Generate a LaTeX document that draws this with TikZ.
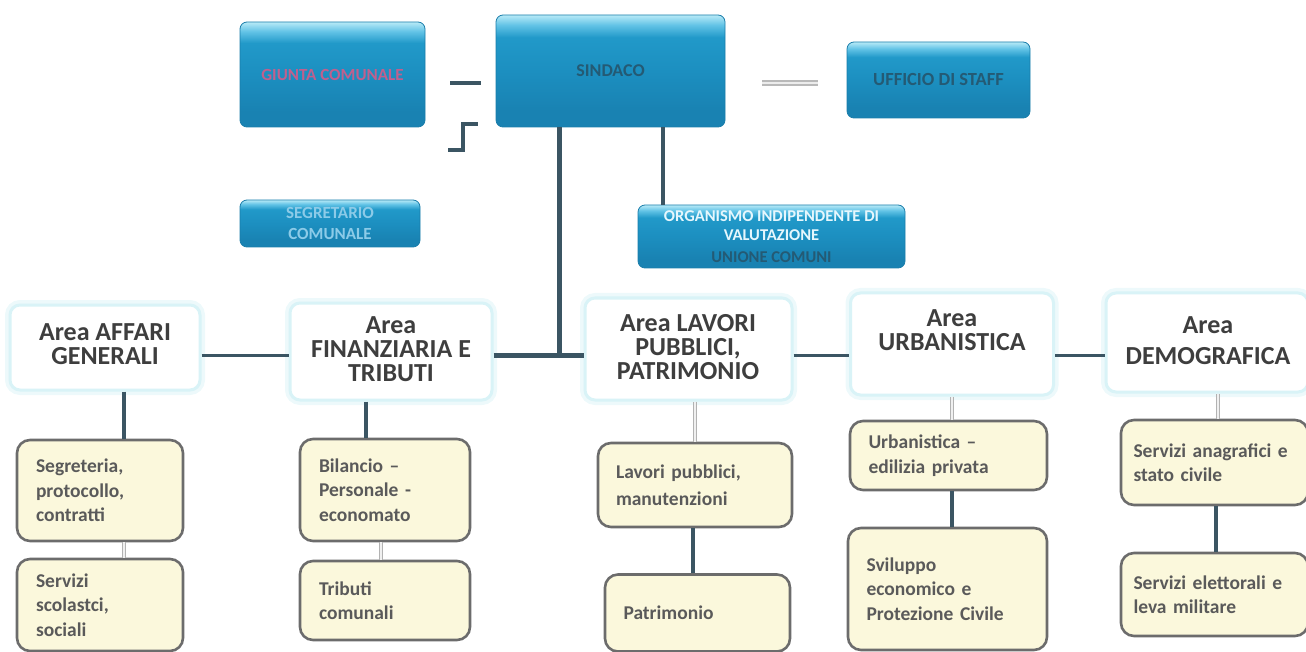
\documentclass[tikz,border=0pt]{standalone}
\usepackage{fontspec}
\setmainfont{Carlito}
\usetikzlibrary{calc}
\definecolor{dkline}{HTML}{3B5563}
\definecolor{boxedge}{HTML}{6C6C6C}
\definecolor{yell}{HTML}{FBF8DC}
\definecolor{titlecol}{HTML}{3E3E3E}
\definecolor{subcol}{HTML}{5A5A5A}
\definecolor{glow}{HTML}{CDEFF4}
\definecolor{bluedge}{HTML}{1A7DAA}
\definecolor{blA}{HTML}{1982B2}
\definecolor{blB}{HTML}{1C8FC0}
\definecolor{blC}{HTML}{2199C9}
\definecolor{blD}{HTML}{62C3E6}
\definecolor{blE}{HTML}{B8EAF7}
\definecolor{sindtxt}{HTML}{245A74}
\definecolor{giuntatxt}{HTML}{C0608E}
\definecolor{segrtxt}{HTML}{8CCBE8}
\pgfdeclareverticalshading{glossy}{100bp}{color(0bp)=(blA); color(25bp)=(blA); color(32bp)=(blA); color(50bp)=(blB); color(65bp)=(blC); color(70.5bp)=(blD); color(75bp)=(blE); color(100bp)=(blE)}
\tikzset{
  bluebox/.style={rounded corners=7pt, shading=glossy, draw=bluedge, line width=0.8pt, align=center, font=\bfseries\fontsize{17}{20}\selectfont, inner sep=2pt},
  areabox/.style={rounded corners=10pt, fill=white, draw=glow!75, line width=3pt,
    preaction={draw=glow!35, line width=10pt}},
  areatext/.style={align=center, text=titlecol, font=\bfseries\fontsize{26}{24}\selectfont},
  subbox/.style={rounded corners=13pt, fill=yell, draw=boxedge, line width=2.6pt, align=left, text=subcol, font=\bfseries\fontsize{19.5}{24.5}\selectfont, inner sep=0pt},
  darkcon/.style={draw=dkline, line width=4pt},
  thickcon/.style={draw=dkline, line width=5pt},
  lightcon/.style={draw=gray!60, double=gray!12, double distance=1.4pt, line width=0.9pt}
}
\begin{document}
\begin{tikzpicture}[x=1pt,y=-1pt]
\useasboundingbox (0,0) rectangle (1306,652);
% top blue boxes
\node[bluebox, minimum width=185pt, minimum height=105pt, text=giuntatxt] (giunta) at (332.5,74.5) {GIUNTA COMUNALE};
\node[bluebox, minimum width=229pt, minimum height=112pt, text=sindtxt, font=\bfseries\fontsize{18}{20}\selectfont] (sind) at (610.5,71) {SINDACO};
\node[bluebox, minimum width=183pt, minimum height=76pt, text=sindtxt, font=\bfseries\fontsize{18.5}{20}\selectfont] (staff) at (938.5,80) {UFFICIO DI STAFF};
\node[bluebox, minimum width=180pt, minimum height=47pt, text=segrtxt, font=\bfseries\fontsize{17}{21}\selectfont] (segr) at (330,223.5) {SEGRETARIO\\COMUNALE};
\node[bluebox, minimum width=267pt, minimum height=63pt, text=white!90!cyan, font=\bfseries\fontsize{16.5}{19}\selectfont, inner sep=0pt] (oiv) at (771.5,236.5) {ORGANISMO INDIPENDENTE DI\\VALUTAZIONE\\[3pt]\textcolor{sindtxt}{UNIONE COMUNI}};
% free segments near the top
\coordinate (d1) at (450,83); \coordinate (d2) at (481,83);
\draw[darkcon] (d1) -- (d2);
\coordinate (b1) at (448,150); \coordinate (b2) at (463,150); \coordinate (b3) at (463,124); \coordinate (b4) at (478,124);
\draw[darkcon, line width=3.5pt] (b1) -- (b2) -- (b3) -- (b4);
\coordinate (g1) at (762,83); \coordinate (g2) at (818,83);
\draw[draw=gray!55, line width=6pt] (g1) -- (g2);
\draw[draw=gray!15, line width=2.5pt] (g1) -- (g2);
% area boxes
\node[areabox, minimum width=190pt, minimum height=85pt] (aff) at (105,347.5) {};
\node[areabox, minimum width=202pt, minimum height=97pt] (fin) at (391,351.5) {};
\node[areabox, minimum width=207pt, minimum height=102pt] (lav) at (688.5,349) {};
\node[areabox, minimum width=203pt, minimum height=102pt] (urb) at (952,344) {};
\node[areabox, minimum width=202pt, minimum height=99pt] (dem) at (1207,342.5) {};
\node[areatext] (affT) at (105,344) {Area AFFARI\\GENERALI};
\node[areatext] (finT) at (391,349) {Area\\FINANZIARIA E\\TRIBUTI};
\node[areatext] (lavT) at (688,347) {Area LAVORI\\PUBBLICI,\\PATRIMONIO};
\node[areatext] (urbT) at (952,330) {Area\\URBANISTICA};
\node[areatext, font=\bfseries\fontsize{26}{31}\selectfont] (demT) at (1208,341) {Area\\DEMOGRAFICA};
% sub boxes
\node[subbox, minimum width=166pt, minimum height=101pt, text width=128pt] (seg) at (100,490.5) {Segreteria,\\protocollo,\\contratti};
\node[subbox, minimum width=166pt, minimum height=92pt, text width=128pt] (scol) at (100,605) {Servizi\\scolastci,\\sociali};
\node[subbox, minimum width=170pt, minimum height=102pt, text width=132pt] (bil) at (385,490) {Bilancio –\\Personale -\\economato};
\node[subbox, minimum width=170pt, minimum height=79pt, text width=132pt] (trib) at (385,600.5) {Tributi\\comunali};
\node[subbox, minimum width=194pt, minimum height=84pt, text width=158pt, font=\bfseries\fontsize{19.5}{27}\selectfont] (lavp) at (695,485) {Lavori pubblici,\\manutenzioni};
\node[subbox, minimum width=185pt, minimum height=77pt, text width=148pt] (patr) at (697.5,613) {Patrimonio\\[10pt]};
\node[subbox, minimum width=197pt, minimum height=69pt, text width=160pt] (urbe) at (948.5,455.5) {Urbanistica –\\edilizia privata};
\node[subbox, minimum width=199pt, minimum height=122pt, text width=162pt] (svil) at (947.5,589) {Sviluppo\\economico e\\Protezione Civile\\[6pt]};
\node[subbox, minimum width=187pt, minimum height=85pt, text width=162pt] (anag) at (1214.5,462.5) {Servizi anagrafici e\\stato civile\\[4pt]};
\node[subbox, minimum width=187pt, minimum height=83pt, text width=162pt] (elet) at (1214.5,594.5) {Servizi elettorali e\\leva militare};
% connectors from top
\coordinate (j) at (559,355);
\draw[thickcon] (sind.south -| j) -- (j);
\coordinate (o) at (663,0);
\draw[darkcon] (sind.south -| o) -- (oiv.north -| o);
% horizontal connectors between areas
\coordinate (h) at (0,355);
\draw[darkcon, line width=3pt] (aff.east |- h) -- (fin.west |- h);
\draw[thickcon] (fin.east |- h) -- (lav.west |- h);
\draw[darkcon, line width=3pt] (lav.east |- h) -- (urb.west |- h);
\draw[darkcon, line width=3pt] (urb.east |- h) -- (dem.west |- h);
% vertical connectors to sub boxes
\coordinate (x1) at (124,0); \coordinate (x2) at (366,0); \coordinate (x3) at (381,0);
\coordinate (x4) at (695,0); \coordinate (x5) at (693,0); \coordinate (x6) at (952,0);
\coordinate (x7) at (1218,0); \coordinate (x8) at (1216,0);
\draw[darkcon, line width=3.5pt] (aff.south -| x1) -- (seg.north -| x1);
\draw[lightcon] (seg.south -| x1) -- (scol.north -| x1);
\draw[darkcon, line width=3.5pt] (fin.south -| x2) -- (bil.north -| x2);
\draw[lightcon] (bil.south -| x3) -- (trib.north -| x3);
\draw[lightcon] (lav.south -| x4) -- (lavp.north -| x4);
\draw[darkcon, line width=3.5pt] (lavp.south -| x5) -- (patr.north -| x5);
\draw[lightcon] (urb.south -| x6) -- (urbe.north -| x6);
\draw[darkcon, line width=3.5pt] (urbe.south -| x6) -- (svil.north -| x6);
\draw[lightcon] (dem.south -| x7) -- (anag.north -| x7);
\draw[darkcon, line width=3.5pt] (anag.south -| x8) -- (elet.north -| x8);
\end{tikzpicture}
\end{document}
